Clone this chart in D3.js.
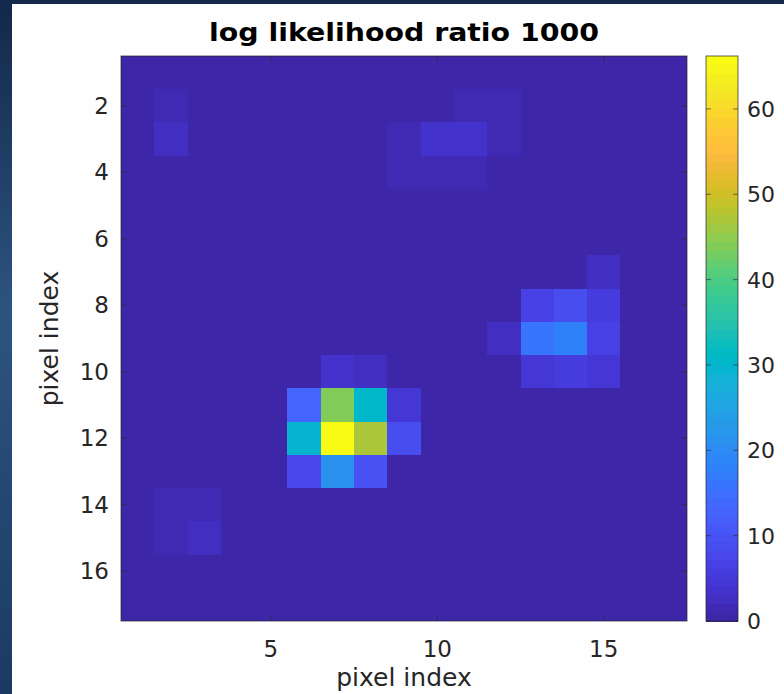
<!DOCTYPE html>
<html>
<head>
<meta charset="utf-8">
<script src="https://cdn.jsdelivr.net/npm/d3@7/dist/d3.min.js"></script>
<style>
  html, body { margin: 0; padding: 0; background: #1b365a; }
  svg { display: block; }
</style>
</head>
<body>
<svg id="chart" width="784" height="694"></svg>
<script>
// Pixel grid: 17 x 17 log-likelihood-ratio values, one list per pixel row (row 1 at the top)
const pixelRows = d3.range(1, 18);
const pixelCols = d3.range(1, 18);
const llr = [
  [0, 0,   0,   0, 0, 0,  0,    0,  0,   0,   0,   0,   0,  0,   0,   0, 0], // 1
  [0, 1.8, 0.8, 0, 0, 0,  0,    0,  0,   0,   1.2, 1.5, 0,  0,   0,   0, 0], // 2
  [0, 3.0, 1.0, 0, 0, 0,  0,    0,  1.5, 3.2, 3.5, 2.0, 0,  0,   0,   0, 0], // 3
  [0, 0,   0,   0, 0, 0,  0,    0,  1.3, 1.5, 1.2, 0,   0,  0,   0,   0, 0], // 4
  [0, 0,   0,   0, 0, 0,  0,    0,  0,   0,   0,   0,   0,  0,   0,   0, 0], // 5
  [0, 0,   0,   0, 0, 0,  0,    0,  0,   0,   0,   0,   0,  0,   0,   0, 0], // 6
  [0, 0,   0,   0, 0, 0,  0,    0,  0,   0,   0,   0,   0,  0,   2.5, 0, 0], // 7
  [0, 0,   0,   0, 0, 0,  0,    0,  0,   0,   0,   0,   7,  9,   6,   0, 0], // 8
  [0, 0,   0,   0, 0, 0,  0,    0,  0,   0,   1,   2.5, 16, 18,  6.5, 0, 0], // 9
  [0, 0,   0,   0, 0, 0,  3.5,  2.5, 0,  0,   0,   0,   4.5, 5.5, 5,  0, 0], // 10
  [0, 0,   0,   0, 0, 13, 44,   31, 5,   0,   0,   0,   0,  0,   0,   0, 0], // 11
  [0, 0,   0,   0, 0, 29, 66.2, 47, 9,   0,   0,   0,   0,  0,   0,   0, 0], // 12
  [0, 0,   0,   0, 0, 8,  21,   10, 1,   0,   0,   0,   0,  0,   0,   0, 0], // 13
  [0, 2.0, 1.5, 0, 0, 0,  1,    0.8, 0,  0,   0,   0,   0,  0,   0,   0, 0], // 14
  [0, 1.5, 2.5, 0, 0, 0,  0,    0,  0,   0,   0,   0,   0,  0,   0,   0, 0], // 15
  [0, 0,   0,   0, 0, 0,  0,    0,  0,   0,   0,   0,   0,  0,   0,   0, 0], // 16
  [0, 0,   0,   0, 0, 0,  0,    0,  0,   0,   0,   0,   0,  0,   0,   0, 0]  // 17
];
const xTickValues = [5, 10, 15];
const yTickValues = [2, 4, 6, 8, 10, 12, 14, 16];
const colorbarTicks = [0, 10, 20, 30, 40, 50, 60];
const titleText = "log likelihood ratio 1000";
const xLabelText = "pixel index";
const yLabelText = "pixel index";

// 64-entry parula colormap
const parula = [
  [0.2422,0.1504,0.6603],[0.2504,0.1650,0.7076],[0.2578,0.1818,0.7511],[0.2647,0.1978,0.7952],
  [0.2706,0.2147,0.8364],[0.2751,0.2342,0.8710],[0.2783,0.2559,0.8991],[0.2803,0.2782,0.9221],
  [0.2813,0.3006,0.9414],[0.2810,0.3228,0.9579],[0.2795,0.3447,0.9717],[0.2760,0.3667,0.9829],
  [0.2699,0.3892,0.9906],[0.2602,0.4123,0.9952],[0.2440,0.4358,0.9988],[0.2206,0.4603,0.9973],
  [0.1963,0.4847,0.9892],[0.1834,0.5074,0.9798],[0.1786,0.5289,0.9682],[0.1764,0.5499,0.9520],
  [0.1687,0.5703,0.9359],[0.1540,0.5902,0.9218],[0.1460,0.6091,0.9079],[0.1380,0.6276,0.8973],
  [0.1248,0.6459,0.8883],[0.1113,0.6635,0.8763],[0.0952,0.6798,0.8598],[0.0689,0.6948,0.8394],
  [0.0297,0.7082,0.8163],[0.0036,0.7203,0.7917],[0.0067,0.7312,0.7660],[0.0433,0.7411,0.7394],
  [0.0964,0.7500,0.7120],[0.1408,0.7584,0.6842],[0.1717,0.7670,0.6554],[0.1938,0.7758,0.6251],
  [0.2161,0.7843,0.5923],[0.2470,0.7918,0.5567],[0.2906,0.7973,0.5188],[0.3406,0.8008,0.4789],
  [0.3909,0.8029,0.4354],[0.4456,0.8024,0.3909],[0.5044,0.7993,0.3480],[0.5616,0.7942,0.3045],
  [0.6174,0.7876,0.2612],[0.6720,0.7793,0.2227],[0.7242,0.7698,0.1910],[0.7738,0.7598,0.1646],
  [0.8203,0.7498,0.1535],[0.8634,0.7406,0.1596],[0.9035,0.7330,0.1774],[0.9393,0.7288,0.2100],
  [0.9728,0.7298,0.2394],[0.9956,0.7434,0.2371],[0.9970,0.7659,0.2199],[0.9952,0.7893,0.2028],
  [0.9892,0.8136,0.1885],[0.9786,0.8386,0.1766],[0.9676,0.8639,0.1643],[0.9610,0.8890,0.1537],
  [0.9597,0.9135,0.1423],[0.9628,0.9373,0.1265],[0.9691,0.9606,0.1064],[0.9769,0.9839,0.0805]
].map(c => d3.rgb(c[0] * 255, c[1] * 255, c[2] * 255).formatHex());

const svg = d3.select("#chart");
const W = 784, H = 694;
const FONT = "'DejaVu Sans', sans-serif";
const TEXT = "#262626";
const AXIS = "#262626";

// slide background and white figure panel
const defs = svg.append("defs");
const bg = defs.append("linearGradient").attr("id", "slideBg")
  .attr("x1", 0).attr("y1", 0).attr("x2", 0).attr("y2", 1);
bg.append("stop").attr("offset", "0%").attr("stop-color", "#13284a");
bg.append("stop").attr("offset", "45%").attr("stop-color", "#2d5480");
bg.append("stop").attr("offset", "100%").attr("stop-color", "#1b3a62");
svg.append("rect").attr("width", W).attr("height", H).attr("fill", "url(#slideBg)");
svg.append("rect").attr("x", 12).attr("y", 4).attr("width", W - 12).attr("height", H - 4).attr("fill", "#fefefe");

// heatmap axes
const plot = { left: 121, right: 687, top: 56, bottom: 621 };
const x = d3.scaleLinear().domain([0.5, 17.5]).range([plot.left, plot.right]);
const y = d3.scaleLinear().domain([0.5, 17.5]).range([plot.top, plot.bottom]);

const flat = [];
llr.forEach((row, i) => row.forEach((v, j) => flat.push({ r: pixelRows[i], c: pixelCols[j], v })));
const vMax = d3.max(flat, d => d.v);
const vMin = d3.min(flat, d => d.v);
const color = d3.scaleQuantize().domain([vMin, vMax]).range(parula);

svg.append("g").selectAll("rect").data(flat).join("rect")
  .attr("x", d => x(d.c - 0.5))
  .attr("y", d => y(d.r - 0.5))
  .attr("width", d => x(d.c + 0.5) - x(d.c - 0.5) + 0.4)
  .attr("height", d => y(d.r + 0.5) - y(d.r - 0.5) + 0.4)
  .attr("fill", d => color(Math.min(d.v, vMax - 1e-9)))
  .attr("shape-rendering", "crispEdges");

// inward ticks on all four sides
const tickLen = 6;
const tk = svg.append("g").attr("stroke", AXIS).attr("stroke-width", 1).attr("opacity", 0.6);
xTickValues.forEach(v => {
  tk.append("line").attr("x1", x(v)).attr("x2", x(v)).attr("y1", plot.bottom).attr("y2", plot.bottom - tickLen);
  tk.append("line").attr("x1", x(v)).attr("x2", x(v)).attr("y1", plot.top).attr("y2", plot.top + tickLen);
});
yTickValues.forEach(v => {
  tk.append("line").attr("y1", y(v)).attr("y2", y(v)).attr("x1", plot.left).attr("x2", plot.left + tickLen);
  tk.append("line").attr("y1", y(v)).attr("y2", y(v)).attr("x1", plot.right).attr("x2", plot.right - tickLen);
});
svg.append("rect")
  .attr("x", plot.left).attr("y", plot.top)
  .attr("width", plot.right - plot.left).attr("height", plot.bottom - plot.top)
  .attr("fill", "none").attr("stroke", AXIS).attr("stroke-width", 1).attr("opacity", 0.7);

// tick labels
svg.append("g").selectAll("text").data(xTickValues).join("text")
  .attr("x", d => x(d)).attr("y", plot.bottom + 36)
  .attr("text-anchor", "middle")
  .attr("font-family", FONT).attr("font-size", 23).attr("fill", TEXT)
  .text(d => d);
svg.append("g").selectAll("text").data(yTickValues).join("text")
  .attr("x", plot.left - 12).attr("y", d => y(d) + 8)
  .attr("text-anchor", "end")
  .attr("font-family", FONT).attr("font-size", 23).attr("fill", TEXT)
  .text(d => d);

// axis labels and title
svg.append("text")
  .attr("x", (plot.left + plot.right) / 2).attr("y", 686)
  .attr("text-anchor", "middle")
  .attr("font-family", FONT).attr("font-size", 25).attr("fill", TEXT)
  .text(xLabelText);
svg.append("text")
  .attr("transform", `translate(58, ${(plot.top + plot.bottom) / 2}) rotate(-90)`)
  .attr("text-anchor", "middle")
  .attr("font-family", FONT).attr("font-size", 25).attr("fill", TEXT)
  .text(yLabelText);
svg.append("text")
  .attr("x", (plot.left + plot.right) / 2).attr("y", 41)
  .attr("text-anchor", "middle")
  .attr("font-family", FONT).attr("font-size", 25).attr("font-weight", "bold").attr("fill", "#000")
  .attr("textLength", 390).attr("lengthAdjust", "spacingAndGlyphs")
  .text(titleText);

// colorbar
const cb = { left: 706, right: 738, top: 56, bottom: 621 };
const cbY = d3.scaleLinear().domain([vMin, vMax]).range([cb.bottom, cb.top]);
const bands = parula.map((c, i) => ({
  c,
  lo: vMin + (vMax - vMin) * i / parula.length,
  hi: vMin + (vMax - vMin) * (i + 1) / parula.length
}));
svg.append("g").selectAll("rect").data(bands).join("rect")
  .attr("x", cb.left).attr("width", cb.right - cb.left)
  .attr("y", d => cbY(d.hi)).attr("height", d => cbY(d.lo) - cbY(d.hi) + 0.5)
  .attr("fill", d => d.c)
  .attr("shape-rendering", "crispEdges");
const cbt = svg.append("g").attr("stroke", AXIS).attr("stroke-width", 1).attr("opacity", 0.6);
colorbarTicks.forEach(v => {
  cbt.append("line").attr("x1", cb.right).attr("x2", cb.right - 5).attr("y1", cbY(v)).attr("y2", cbY(v));
  cbt.append("line").attr("x1", cb.left).attr("x2", cb.left + 5).attr("y1", cbY(v)).attr("y2", cbY(v));
});
svg.append("rect")
  .attr("x", cb.left).attr("y", cb.top)
  .attr("width", cb.right - cb.left).attr("height", cb.bottom - cb.top)
  .attr("fill", "none").attr("stroke", AXIS).attr("stroke-width", 1).attr("opacity", 0.7);
svg.append("g").selectAll("text").data(colorbarTicks).join("text")
  .attr("x", cb.right + 9).attr("y", d => cbY(d) + 8)
  .attr("font-family", FONT).attr("font-size", 22).attr("fill", TEXT)
  .text(d => d);
</script>
</body>
</html>
